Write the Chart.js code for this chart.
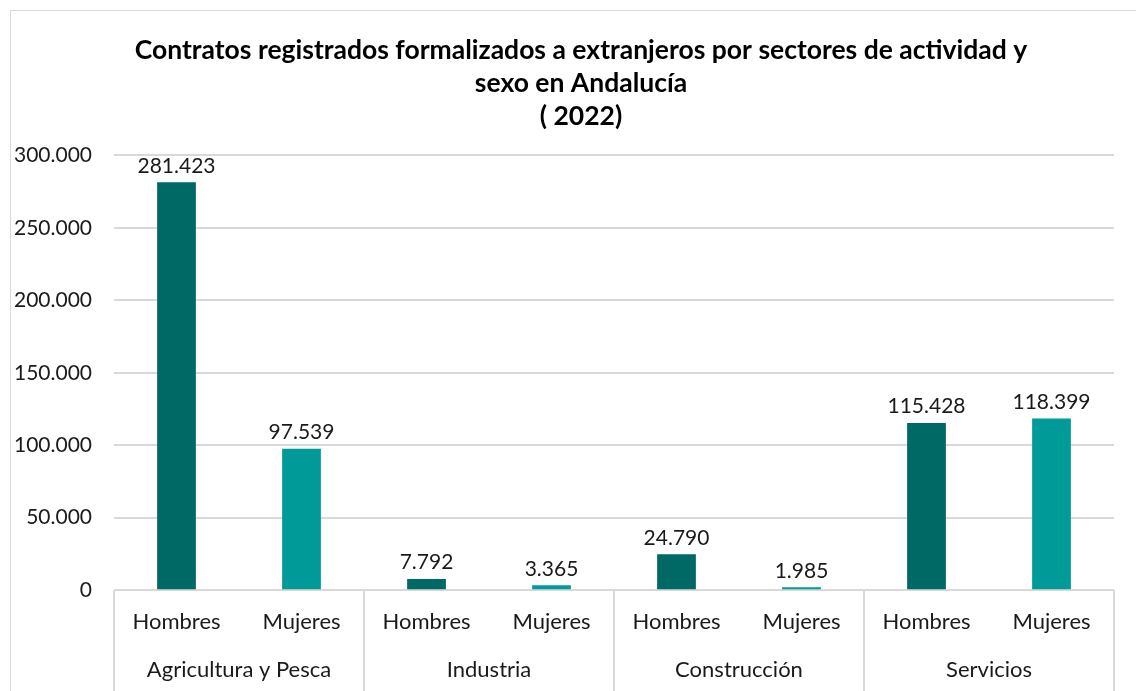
<!DOCTYPE html>
<html>
<head>
<meta charset="utf-8">
<script src="https://cdn.jsdelivr.net/npm/chart.js@4"></script>
<style>
  html, body { margin: 0; padding: 0; background: #fff; overflow: hidden; }
  #box {
    position: absolute; left: 10px; top: 10px;
    width: 1140px; height: 686px;
    border-top: 1px solid #d9d9d9; border-left: 1px solid #d9d9d9;
  }
  canvas { display: block; }
</style>
</head>
<body>
<div id="box"><canvas id="myChart" width="1140" height="686"></canvas></div>
<script>
let sectores = ["Agricultura y Pesca", "Industria", "Construcción", "Servicios"];
let sexos = ["Hombres", "Mujeres"];
let hombres = [281423, 7792, 24790, 115428];
let mujeres = [97539, 3365, 1985, 118399];
let yTicks = [0, 50000, 100000, 150000, 200000, 250000, 300000];

let colores = { Hombres: "#006966", Mujeres: "#009b99" };
let fuente = "Lato";
let margenTitulo = 37;

// one bar per sector/sex pair
let etiquetas = [];
let valores = [];
let coloresBarra = [];
sectores.forEach((s, i) => {
	etiquetas.push(sexos[0], sexos[1]);
	valores.push(hombres[i], mujeres[i]);
	coloresBarra.push(colores[sexos[0]], colores[sexos[1]]);
});

function miles(n){
	return String(n).replace(/\B(?=(\d{3})+(?!\d))/g, ".");
}

// numbers above each bar
const etiquetasValor = {
	id: "etiquetasValor",
	afterDatasetsDraw(chart){
		let ctx = chart.ctx;
		ctx.save();
		ctx.font = "21px " + fuente;
		ctx.fillStyle = "#1a1a1a";
		ctx.textAlign = "center";
		ctx.textBaseline = "bottom";
		chart.getDatasetMeta(0).data.forEach((bar, i) => {
			ctx.fillText(miles(valores[i]), bar.x, bar.y - 6);
		});
		ctx.restore();
	}
};

// vertical separators between sector groups under the axis
const separadores = {
	id: "separadores",
	afterDraw(chart){
		let x = chart.scales.x;
		let ctx = chart.ctx;
		let paso = x.getPixelForValue(1) - x.getPixelForValue(0);
		ctx.save();
		ctx.strokeStyle = "#d9d9d9";
		ctx.lineWidth = 2;
		for(let i = 0; i <= etiquetas.length; i += 2){
			let px = Math.round(x.getPixelForValue(i) - paso / 2);
			ctx.beginPath();
			ctx.moveTo(px, chart.chartArea.bottom);
			ctx.lineTo(px, chart.height);
			ctx.stroke();
		}
		ctx.restore();
	}
};

// keep the title centred on the box, not on the padded area
const tituloCentrado = {
	id: "tituloCentrado",
	afterLayout(chart){
		if(chart.titleBlock) chart.titleBlock.left += margenTitulo;
	}
};

let chart = new Chart("myChart", {
	type: "bar",
	data: {
		labels: etiquetas,
		datasets: [{
			label: "Contratos",
			data: valores,
			backgroundColor: coloresBarra,
			barPercentage: 0.31,
			categoryPercentage: 1
		}]
	},
	options: {
		responsive: false,
		animation: false,
		layout: { padding: { left: 0, right: 37, bottom: 12, top: 0 } },
		plugins: {
			legend: { display: false },
			tooltip: { enabled: false },
			title: {
				display: true,
				text: ["Contratos registrados formalizados a extranjeros por sectores de actividad y", "sexo en Andalucía", "( 2022)"],
				color: "#000",
				font: { family: fuente, size: 26.5, weight: "bold", lineHeight: 1.25 },
				padding: { top: 23, bottom: 22 }
			}
		},
		scales: {
			y: {
				min: 0,
				max: 300000,
				afterBuildTicks: (scale) => { scale.ticks = yTicks.map(v => ({ value: v })); },
				afterFit: (scale) => { scale.width = 103; },
				grid: { color: "#d9d9d9", lineWidth: 2, drawTicks: false },
				border: { display: false },
				ticks: {
					padding: 22,
					color: "#1a1a1a",
					font: { family: fuente, size: 21 },
					callback: (v) => miles(v)
				}
			},
			x: {
				grid: { display: false },
				border: { display: false },
				ticks: {
					padding: 11,
					color: "#1a1a1a",
					font: { family: fuente, size: 22 },
					maxRotation: 0,
					autoSkip: false
				}
			},
			x2: {
				type: "category",
				position: "bottom",
				labels: sectores,
				grid: { display: false },
				border: { display: false },
				ticks: {
					padding: 2,
					color: "#1a1a1a",
					font: { family: fuente, size: 22 },
					maxRotation: 0,
					autoSkip: false
				}
			}
		}
	},
	plugins: [etiquetasValor, separadores, tituloCentrado]
});
</script>
</body>
</html>
